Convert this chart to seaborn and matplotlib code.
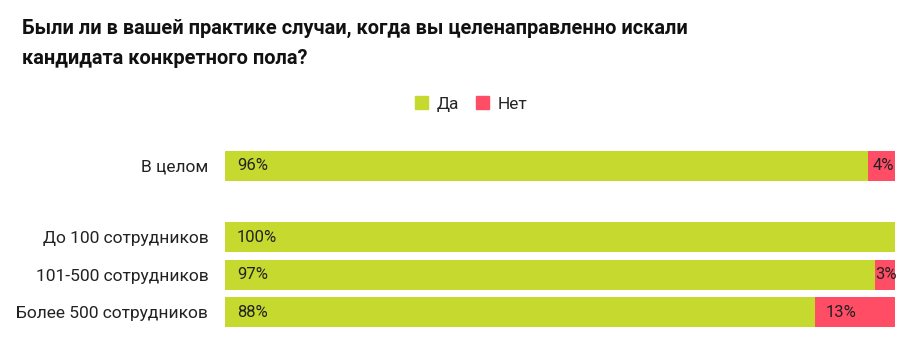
import matplotlib
matplotlib.use("Agg")
import matplotlib.pyplot as plt
import seaborn as sns
import pandas as pd
from matplotlib.patches import Rectangle

categories = ["В целом", "До 100 сотрудников", "101-500 сотрудников", "Более 500 сотрудников"]
positions = [0, 1.9, 2.9, 3.9]
yes_vals = [96, 100, 97, 88]
no_vals = [4, 0, 3, 13]
yes_labels = ["96%", "100%", "97%", "88%"]
no_labels = ["4%", "", "3%", "13%"]

GREEN = "#c5d92f"
RED = "#ff4d66"

sns.set_theme(style="white")
plt.rcParams["font.family"] = ["Roboto", "DejaVu Sans"]

df = pd.DataFrame({"pos": positions, "yes": yes_vals, "no": no_vals})
df["total"] = df["yes"] + df["no"]

fig = plt.figure(figsize=(9.18, 3.52), dpi=100)
W, H = 918, 352
top_px, bot_px = 147.25, 330.75
ax = fig.add_axes([225 / W, 1 - bot_px / H, (895 - 225) / W, (bot_px - top_px) / H])

# red drawn as full length, green on top
sns.barplot(data=df, x="total", y="pos", orient="y", native_scale=True,
            color=RED, saturation=1, width=0.8, linewidth=0, ax=ax)
sns.barplot(data=df, x="yes", y="pos", orient="y", native_scale=True,
            color=GREEN, saturation=1, width=0.8, linewidth=0, ax=ax)

ax.set_xlim(0, 100)
ax.set_ylim(3.9 + 0.5, -0.5)
ax.set_xticks([])
ax.set_yticks(positions)
ax.set_yticklabels(categories, fontsize=12.5, color="#222222")
ax.tick_params(axis="y", length=0, pad=12)
ax.set_xlabel("")
ax.set_ylabel("")
for s in ax.spines.values():
    s.set_visible(False)

for p, y, n, yl, nl in zip(positions, yes_vals, no_vals, yes_labels, no_labels):
    ax.text(1.8, p, yl, va="center", ha="left", fontsize=12, color="#222222")
    if nl:
        if n >= 10:
            ax.text(y + 1.6, p, nl, va="center", ha="left", fontsize=12, color="#222222")
        else:
            ax.text(min(y + n / 2, 99.2) + 0.2, p, nl, va="center", ha="center",
                    fontsize=12, color="#222222")

fig.text(22 / W, 1 - 28 / H, "Были ли в вашей практике случаи, когда вы целенаправленно искали",
         fontsize=14.4, fontweight="bold", color="#111111", va="center", ha="left")
fig.text(22 / W, 1 - 58 / H, "кандидата конкретного пола?",
         fontsize=14.4, fontweight="bold", color="#111111", va="center", ha="left")

# legend
handles = [Rectangle((0, 0), 1, 1, color=GREEN), Rectangle((0, 0), 1, 1, color=RED)]
fig.legend(handles, ["Да", "Нет"], loc="center", bbox_to_anchor=(471 / W, 1 - 104 / H),
           ncol=2, frameon=False, fontsize=12.5, handlelength=0.75, handleheight=0.75,
           handletextpad=0.5, columnspacing=1.0)

fig.savefig("out.png", dpi=100)
